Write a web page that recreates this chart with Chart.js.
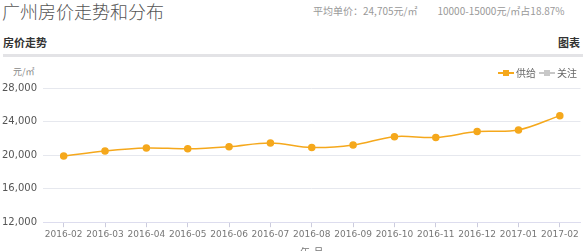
<!DOCTYPE html>
<html>
<head>
<meta charset="utf-8">
<script src="https://cdn.jsdelivr.net/npm/chart.js@4"></script>
<style>
    body { margin: 0; width: 586px; height: 251px; overflow: hidden; background: #fff;
           font-family: "Noto Sans CJK SC", "Noto Sans", sans-serif; position: relative; }
    .title { position: absolute; left: 2px; top: -2px; font-size: 18px; color: #555; font-weight: 300; }
    .stats { position: absolute; left: 313px; top: 3px; font-size: 10px; color: #999; white-space: nowrap; }
    .stats span { margin-right: 20px; }
    .sub { position: absolute; left: 3px; top: 34px; font-size: 11px; font-weight: bold; color: #333; }
    .subr { position: absolute; left: 558px; top: 34px; font-size: 11px; font-weight: bold; color: #333; }
    .rule { position: absolute; left: 3px; top: 54px; width: 580px; height: 3px; background: #e3e3e6; }
    .unit { position: absolute; left: 13px; top: 65px; font-size: 9px; color: #888; }
    #wrap { position: absolute; left: 0; top: 60px; width: 586px; height: 202px; }
</style>
</head>
<body>
<div class="title">广州房价走势和分布</div>
<div class="stats"><span>平均单价：24,705元/㎡</span><span>10000-15000元/㎡占18.87%</span></div>
<div class="sub">房价走势</div>
<div class="subr">图表</div>
<div class="rule"></div>
<div class="unit">元/㎡</div>
<div id="wrap"><canvas id="priceChart"></canvas></div>
<script>
    const months = ['2016-02', '2016-03', '2016-04', '2016-05', '2016-06', '2016-07', '2016-08',
                    '2016-09', '2016-10', '2016-11', '2016-12', '2017-01', '2017-02'];
    const supply = [19900, 20500, 20850, 20750, 21000, 21450, 20900, 21200, 22200, 22100, 22800, 23000, 24705];
    const attention = [];
    const yTicks = [12000, 16000, 20000, 24000, 28000];

    // legend marker: short line with a square in the middle
    function marker(color) {
        const c = document.createElement('canvas');
        c.width = 16; c.height = 8;
        const g = c.getContext('2d');
        g.strokeStyle = color; g.lineWidth = 2;
        g.beginPath(); g.moveTo(0, 4); g.lineTo(16, 4); g.stroke();
        g.fillStyle = color; g.fillRect(5, 1, 6, 6);
        return c;
    }

    new Chart(document.getElementById('priceChart'), {
        type: 'line',
        data: {
            labels: months,
            datasets: [{
                label: '供给',
                data: supply,
                borderColor: '#f5a81c',
                backgroundColor: '#f5a81c',
                borderWidth: 1.5,
                tension: 0.35,
                pointRadius: 3,
                pointStyle: 'circle',
                pointBackgroundColor: '#f5a81c'
            }, {
                label: '关注',
                data: attention,
                borderColor: '#c8c8c8',
                backgroundColor: '#c8c8c8'
            }]
        },
        options: {
            responsive: true,
            maintainAspectRatio: false,
            animation: false,
            layout: { padding: { left: 0, right: 3, top: 2, bottom: 0 } },
            plugins: {
                tooltip: { enabled: false },
                legend: {
                    position: 'top',
                    align: 'end',
                    labels: {
                        usePointStyle: true,
                        generateLabels: function(chart) {
                            return chart.data.datasets.map((ds, i) => ({
                                text: ds.label,
                                pointStyle: marker(ds.borderColor),
                                fontColor: '#666',
                                datasetIndex: i,
                                lineWidth: 0
                            }));
                        },
                        font: { size: 10, family: 'Noto Sans CJK SC' },
                        color: '#666',
                        padding: 6,
                        boxWidth: 16
                    }
                }
            },
            scales: {
                x: {
                    offset: true,
                    grid: { drawOnChartArea: false, drawTicks: true, tickLength: 5, color: '#ccd' },
                    border: { color: '#dde' },
                    ticks: { color: '#777', font: { size: 9, family: 'DejaVu Sans' }, maxRotation: 0, autoSkip: false, padding: 2 },
                    title: { display: true, text: '年-月', color: '#777', font: { size: 10, family: 'Noto Sans CJK SC' }, padding: { top: 4 } }
                },
                y: {
                    min: yTicks[0],
                    max: yTicks[yTicks.length - 1],
                    afterBuildTicks: function(axis) { axis.ticks = yTicks.map(v => ({ value: v })); },
                    afterFit: function(axis) { axis.width = 43; },
                    grid: { color: '#e6e8ee', drawTicks: false },
                    border: { display: false },
                    ticks: {
                        color: '#555',
                        padding: 6,
                        font: { size: 10, family: 'DejaVu Sans' },
                        callback: v => v.toLocaleString('en-US')
                    }
                }
            }
        }
    });
</script>
</body>
</html>
